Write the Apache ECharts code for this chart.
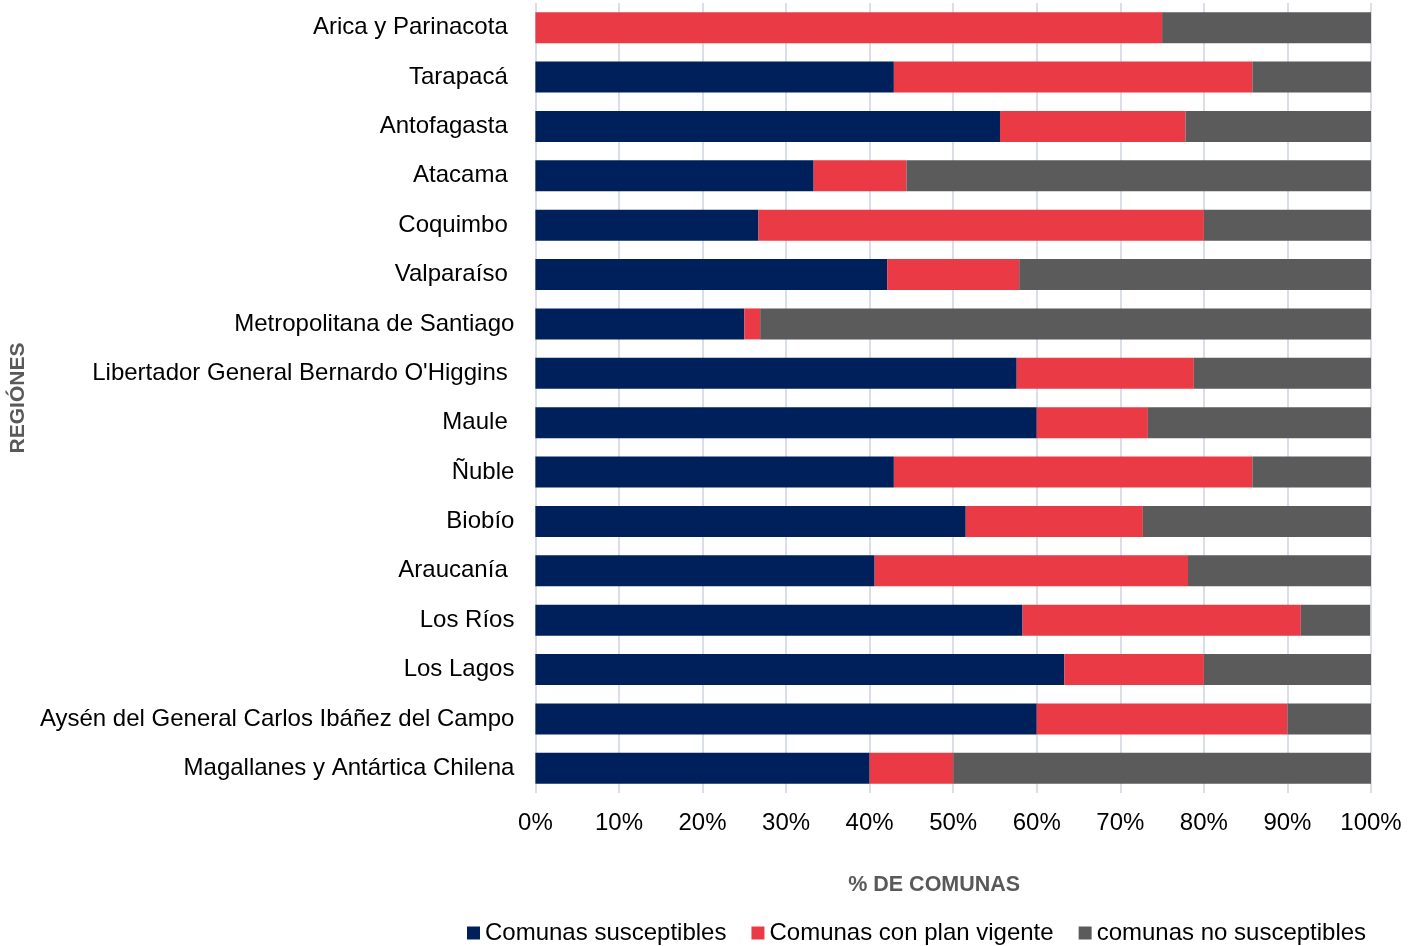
<!DOCTYPE html>
<html><head><meta charset="utf-8">
<script src="https://cdn.jsdelivr.net/npm/echarts@6/dist/echarts.min.js"></script>
<style>html,body{margin:0;padding:0;background:#fff}#c{width:1420px;height:946px}</style>
</head><body><div id="c"></div>
<script>
const categories = ["Arica y Parinacota ", "Tarapacá ", "Antofagasta ", "Atacama ", "Coquimbo ", "Valparaíso ",
  "Metropolitana de Santiago", "Libertador General Bernardo O'Higgins ", "Maule ", "Ñuble", "Biobío",
  "Araucanía ", "Los Ríos", "Los Lagos", "Aysén del General Carlos Ibáñez del Campo", "Magallanes y Antártica Chilena"];
const susceptibles = [0, 42.9, 55.6, 33.3, 26.7, 42.1, 25.0, 57.6, 60.0, 42.9, 51.5, 40.6, 58.3, 63.3, 60.0, 40.0];
const conPlan = [75.0, 42.9, 22.2, 11.1, 53.3, 15.8, 1.9, 21.2, 13.3, 42.9, 21.2, 37.5, 33.3, 16.7, 30.0, 10.0];
const noSusceptibles = [25.0, 14.3, 22.2, 55.6, 20.0, 42.1, 73.1, 21.2, 26.7, 14.3, 27.3, 21.9, 8.3, 20.0, 10.0, 50.0];
const seriesNames = ["Comunas susceptibles", "Comunas con plan vigente", "comunas no susceptibles"];
const xTicks = [0, 10, 20, 30, 40, 50, 60, 70, 80, 90, 100];

const colors = ["#00205B", "#EA3A46", "#5B5B5B"];
const font = "Liberation Sans, Arial, sans-serif";
const chart = echarts.init(document.getElementById('c'));
const mk = (name, data, i) => ({
  name, type: 'bar', stack: 'a', data, barWidth: 31,
  itemStyle: { color: colors[i] }, emphasis: { disabled: true }
});
chart.setOption({
  animation: false,
  textStyle: { fontFamily: font },
  grid: { left: 535, right: 49, top: 3, bottom: 153, containLabel: false },
  legend: {
    data: seriesNames, left: 467, top: 921, padding: 0, icon: 'rect', itemWidth: 13, itemHeight: 13, itemGap: 25,
    itemStyle: { borderWidth: 0 },
    textStyle: { fontSize: 24, color: '#000', fontFamily: font }
  },
  xAxis: {
    type: 'value', min: 0, max: 100, interval: 10,
    axisLabel: { formatter: v => v + '%', fontSize: 24, color: '#000', margin: 18, fontFamily: font },
    axisLine: { show: false }, axisTick: { show: false },
    splitLine: { show: true, lineStyle: { color: '#D9DEE8', width: 2 } },
    name: '% DE COMUNAS', nameLocation: 'middle', nameGap: 81,
    nameTextStyle: { fontSize: 21.5, fontWeight: 'bold', color: '#595959', fontFamily: font, padding: [0, 38, 0, 0] }
  },
  yAxis: {
    type: 'category', data: categories, inverse: true,
    axisLabel: { fontSize: 24, color: '#000', margin: 21, fontFamily: font, padding: [2, 0, 0, 0] },
    axisLine: { show: false }, axisTick: { show: false },
    name: 'REGIÓNES', nameLocation: 'middle', nameGap: 505, nameRotate: 90,
    nameTextStyle: { fontSize: 21, fontWeight: 'bold', color: '#595959', fontFamily: font }
  },
  series: [mk(seriesNames[0], susceptibles, 0), mk(seriesNames[1], conPlan, 1), mk(seriesNames[2], noSusceptibles, 2)]
});
</script></body></html>
